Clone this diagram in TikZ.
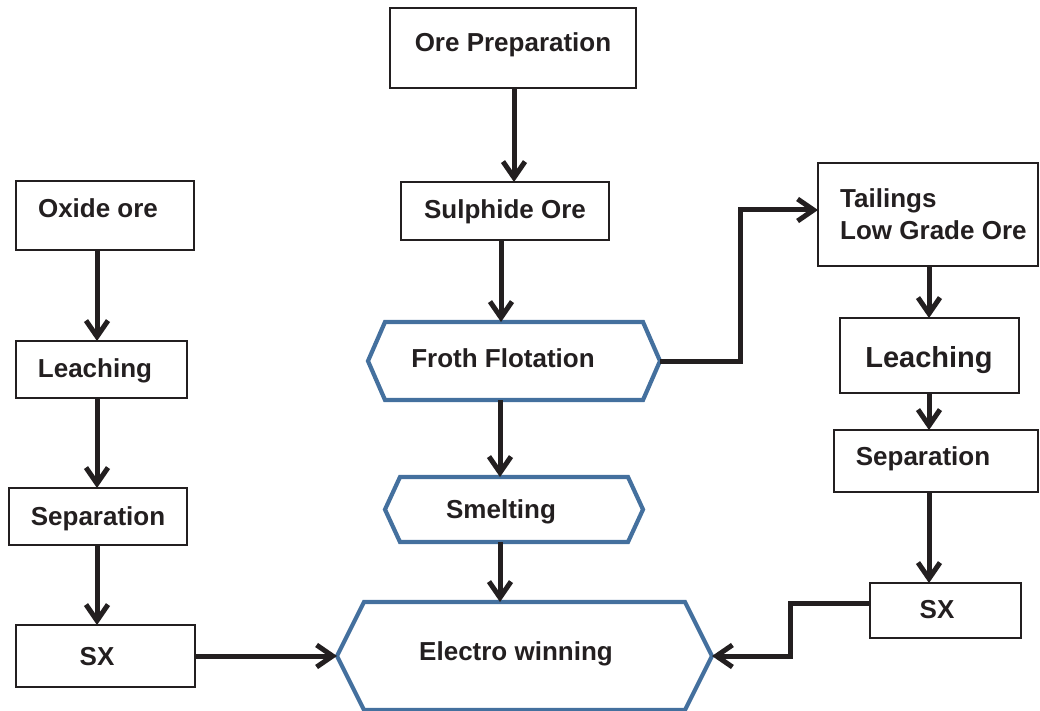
\documentclass[tikz,border=0pt]{standalone}
\usepackage{fontspec}
\setmainfont{Liberation Sans}
\usetikzlibrary{arrows.meta,calc}
\definecolor{hexblue}{RGB}{68,112,158}
\definecolor{ink}{RGB}{35,31,32}
\newcommand\hexpath[2]{%
  \draw[hexline] ($(#1.north west)+(#2,0)$) -- ($(#1.north east)+(-#2,0)$) -- (#1.east)
    -- ($(#1.south east)+(-#2,0)$) -- ($(#1.south west)+(#2,0)$) -- (#1.west) -- cycle;}
\begin{document}
\begin{tikzpicture}[x=1pt,y=-1pt,
  box/.style={draw=ink, line width=1.4pt, inner sep=0pt, outer sep=0pt},
  hexnode/.style={inner sep=0pt, outer sep=0pt},
  hexline/.style={draw=hexblue, line width=4.2pt, line join=miter},
  lbl/.style={font=\bfseries\fontsize{26}{32}\selectfont, text=ink, inner sep=0pt, text depth=0pt},
  arr/.style={draw=ink, line width=5pt, -{Straight Barb[length=16pt,width=22pt]}}]
\useasboundingbox (0,0) rectangle (1040,711);
% centre column
\node[box, minimum width=246pt, minimum height=80pt, label={[lbl,yshift=6pt]center:Ore Preparation}] (op) at (513,48) {};
\node[box, minimum width=208pt, minimum height=58pt, label={[lbl,yshift=2pt]center:Sulphide Ore}] (so) at (505,211) {};
\node[hexnode, minimum width=292pt, minimum height=78pt, label={[lbl,xshift=-11pt,yshift=3pt]center:Froth Flotation}] (ff) at (514,361) {};
\hexpath{ff}{17}
\node[hexnode, minimum width=258pt, minimum height=65pt, label={[lbl,xshift=-13pt]center:Smelting}] (sm) at (514,509.5) {};
\hexpath{sm}{15}
\node[hexnode, minimum width=375pt, minimum height=108pt, label={[lbl,xshift=-8.5pt,yshift=5pt]center:Electro winning}] (ew) at (524.5,656) {};
\hexpath{ew}{27}
% left column
\node[box, minimum width=178pt, minimum height=69pt, label={[lbl,xshift=-7pt,yshift=7.5pt]center:Oxide ore}] (ox) at (105,215.5) {};
\node[box, minimum width=171pt, minimum height=57pt, label={[lbl,xshift=-6.5pt,yshift=1.5pt]center:Leaching}] (le1) at (101.5,369.5) {};
\node[box, minimum width=178pt, minimum height=57pt, label={[lbl]center:Separation}] (se1) at (98,516.5) {};
\node[box, minimum width=179pt, minimum height=62pt, label={[lbl,xshift=-8.5pt]center:SX}] (sx1) at (105.5,656) {};
% right column
\node[box, minimum width=220pt, minimum height=103pt, label={[lbl,align=left,anchor=west,xshift=22pt]west:Tailings\\Low Grade Ore}] (tl) at (928,214.5) {};
\node[box, minimum width=179pt, minimum height=75pt, label={[lbl,font=\bfseries\fontsize{29}{34}\selectfont,xshift=-0.5pt,yshift=-1.5pt]center:Leaching}] (le2) at (929.5,355.5) {};
\node[box, minimum width=204pt, minimum height=62pt, label={[lbl,xshift=-13pt,yshift=5pt]center:Separation}] (se2) at (936,461) {};
\node[box, minimum width=151pt, minimum height=55pt, label={[lbl,xshift=-8.5pt,yshift=1.5pt]center:SX}] (sx2) at (945.5,610.5) {};
% connectors
\draw[arr] ([xshift=1pt]op.south) -- ([xshift=1pt]op.south |- so.north);
\draw[arr] ([xshift=-4pt]so.south) -- ([xshift=-4pt]so.south |- ff.north);
\draw[arr] ([xshift=-14pt]ff.south) -- ([xshift=-14pt]ff.south |- sm.north);
\draw[arr] ([xshift=-14pt]sm.south) -- ([xshift=-14pt]sm.south |- ew.north);
\draw[arr] (ff.east) -- ++(80,0) |- ([yshift=4.5pt]tl.west);
\draw[arr] ([xshift=-8pt]ox.south) -- ([xshift=-8pt]ox.south |- le1.north);
\draw[arr] ([xshift=-4.5pt]le1.south) -- ([xshift=-4.5pt]le1.south |- se1.north);
\draw[arr] ([xshift=-1pt]se1.south) -- ([xshift=-1pt]se1.south |- sx1.north);
\draw[arr] (sx1.east) -- (ew.west);
\draw[arr] ([xshift=1pt]tl.south) -- ([xshift=1pt]tl.south |- le2.north);
\draw[arr] ([xshift=-0.5pt]le2.south) -- ([xshift=-0.5pt]le2.south |- se2.north);
\draw[arr] ([xshift=-7pt]se2.south) -- ([xshift=-7pt]se2.south |- sx2.north);
\draw[arr] ([yshift=7.5pt]sx2.west) -- ++(-80,0) |- (ew.east);
\end{tikzpicture}
\end{document}
